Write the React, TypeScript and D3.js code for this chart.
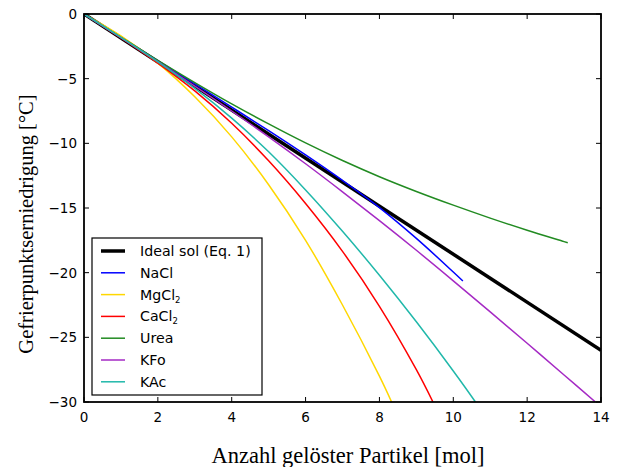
import React from "react";
import * as d3 from "d3";

const idealX = [0, 14];
const idealY = [0, -26.0];

const naclX = [0, 1, 2, 3, 4, 5, 6, 7, 8, 9, 10, 10.26];
const naclY = [0, -1.8, -3.6, -5.4, -7.2, -9.02, -10.9, -12.87, -14.97, -17.35, -19.95, -20.65];

const mgX = [0, 1, 2, 3, 4, 5, 6, 7, 8, 8.33];
const mgY = [0, -1.7, -3.8, -6.4, -9.5, -13.2, -17.5, -22.5, -28.0, -30];

const caX = [0, 1, 2, 3, 4, 5, 6, 7, 8, 9, 9.45];
const caY = [0, -1.85, -3.8, -5.95, -8.45, -11.35, -14.65, -18.35, -22.6, -27.5, -30];

const ureaX = [0, 1, 2, 3, 4, 5, 6, 7, 8, 9, 10, 11, 12, 13, 13.1];
const ureaY = [0, -1.8, -3.58, -5.3, -6.95, -8.5, -9.97, -11.33, -12.58, -13.72, -14.78, -15.78, -16.72, -17.6, -17.69];

const kfoX = [0, 1, 2, 3, 4, 5, 6, 7, 8, 9, 10, 11, 12, 13, 13.85];
const kfoY = [0, -1.83, -3.69, -5.57, -7.5, -9.5, -11.58, -13.75, -15.98, -18.27, -20.63, -23.03, -25.46, -27.91, -30];

const kacX = [0, 1, 2, 3, 4, 5, 6, 7, 8, 9, 10, 10.6];
const kacY = [0, -1.8, -3.7, -5.75, -8.05, -10.65, -13.6, -16.8, -20.2, -23.8, -27.6, -30];

const xTicks = [0, 2, 4, 6, 8, 10, 12, 14];
const yTicks = [0, -5, -10, -15, -20, -25, -30];

const series = [
  { name: "Ideal sol (Eq. 1)", sub: "", xs: idealX, ys: idealY, color: "#000000", width: 3.5 },
  { name: "NaCl", sub: "", xs: naclX, ys: naclY, color: "#0000ff", width: 1.5 },
  { name: "MgCl", sub: "2", xs: mgX, ys: mgY, color: "#ffd700", width: 1.5 },
  { name: "CaCl", sub: "2", xs: caX, ys: caY, color: "#ff0000", width: 1.5 },
  { name: "Urea", sub: "", xs: ureaX, ys: ureaY, color: "#228b22", width: 1.5 },
  { name: "KFo", sub: "", xs: kfoX, ys: kfoY, color: "#a52ac4", width: 1.5 },
  { name: "KAc", sub: "", xs: kacX, ys: kacY, color: "#20b8aa", width: 1.5 },
];

export default function App() {
  const W = 619, H = 467;
  const L = 84, R = 601, T = 14, B = 402;
  const x = d3.scaleLinear().domain([0, 14]).range([L, R]);
  const y = d3.scaleLinear().domain([0, -30]).range([T, B]);
  const line = d3
    .line<[number, number]>()
    .x((d) => x(d[0]))
    .y((d) => y(d[1]))
    .curve(d3.curveCatmullRom.alpha(0.5));
  const sans = "DejaVu Sans, sans-serif";
  const serif = "Liberation Serif, Times New Roman, serif";
  const fmt = (v: number) => (v < 0 ? "\u2212" + Math.abs(v) : String(v));
  const tl = 5;
  const legX = 92, legY = 238, legW = 170, legH = 157;
  const rowY = (i: number) => 251 + i * 21.8;
  return (
    <svg width={W} height={H} style={{ position: "absolute", left: 0, top: 0, background: "#fff" }}>
      <defs>
        <clipPath id="plot">
          <rect x={L} y={T} width={R - L} height={B - T} />
        </clipPath>
      </defs>
      <g clipPath="url(#plot)">
        {series.map((s, i) => (
          <path
            key={i}
            d={line(s.xs.map((v, j) => [v, s.ys[j]] as [number, number])) || ""}
            fill="none"
            stroke={s.color}
            strokeWidth={s.width}
          />
        ))}
      </g>
      {xTicks.map((t) => (
        <g key={"x" + t}>
          <line x1={x(t)} x2={x(t)} y1={B} y2={B - tl} stroke="#000" strokeWidth={1} />
          <line x1={x(t)} x2={x(t)} y1={T} y2={T + tl} stroke="#000" strokeWidth={1} />
          <text x={x(t)} y={B + 20} textAnchor="middle" fontFamily={sans} fontSize={13.5} fill="#000">
            {fmt(t)}
          </text>
        </g>
      ))}
      {yTicks.map((t) => (
        <g key={"y" + t}>
          <line x1={L} x2={L + tl} y1={y(t)} y2={y(t)} stroke="#000" strokeWidth={1} />
          <line x1={R} x2={R - tl} y1={y(t)} y2={y(t)} stroke="#000" strokeWidth={1} />
          <text x={L - 7} y={y(t) + 5} textAnchor="end" fontFamily={sans} fontSize={13.5} fill="#000">
            {fmt(t)}
          </text>
        </g>
      ))}
      <rect x={L} y={T} width={R - L} height={B - T} fill="none" stroke="#000" strokeWidth={1.8} />
      <rect x={legX} y={legY} width={legW} height={legH} fill="#fff" stroke="#000" strokeWidth={1.2} />
      {series.map((s, i) => (
        <g key={"l" + i}>
          <line x1={101} x2={125} y1={rowY(i)} y2={rowY(i)} stroke={s.color} strokeWidth={s.width} />
          <text x={140} y={rowY(i) + 5} fontFamily={sans} fontSize={14.2} fill="#000">
            {s.name}
            {s.sub ? (
              <tspan fontSize={8.5} dy={3}>
                {s.sub}
              </tspan>
            ) : null}
          </text>
        </g>
      ))}
      <text x={348} y={463} textAnchor="middle" fontFamily={serif} fontSize={22.5} fill="#000">
        Anzahl gelöster Partikel [mol]
      </text>
      <text
        transform={`translate(33, 224) rotate(-90)`}
        textAnchor="middle"
        fontFamily={serif}
        fontSize={20.5}
        fill="#000"
      >
        Gefrierpunktserniedrigung [°C]
      </text>
    </svg>
  );
}
